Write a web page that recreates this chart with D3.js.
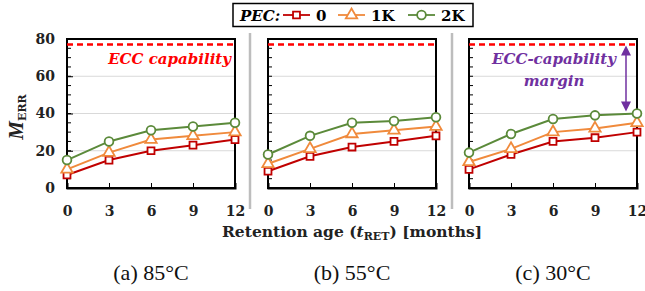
<!DOCTYPE html>
<meta charset="utf-8">
<style>
body { margin: 0; background: #fff; }
svg { display: block; }
.tick text { font: bold 14px "DejaVu Serif", serif; fill: #222; }
.axis path, .axis line { stroke: #000; }
</style>
<body>
<div id="chart"></div>
<script src="https://cdn.jsdelivr.net/npm/d3@7"></script>
<script>
var months = [0, 3, 6, 9, 12];
var pecKeys = ["0", "1K", "2K"];
var panelNames = ["(a) 85°C", "(b) 55°C", "(c) 30°C"];
var yTicks = [0, 20, 40, 60, 80];
var eccCap = 77;

// one array per series per panel
var p85_0 = [7, 15, 20, 23, 26];
var p85_1K = [10, 19, 26, 28, 30];
var p85_2K = [15, 25, 31, 33, 35];
var p55_0 = [9, 17, 22, 25, 28];
var p55_1K = [13, 21, 29, 31, 33];
var p55_2K = [18, 28, 35, 36, 38];
var p30_0 = [10, 18, 25, 27, 30];
var p30_1K = [14, 21, 30, 32, 35];
var p30_2K = [19, 29, 37, 39, 40];

var panels = [
    { name: panelNames[0], series: [p85_0, p85_1K, p85_2K] },
    { name: panelNames[1], series: [p55_0, p55_1K, p55_2K] },
    { name: panelNames[2], series: [p30_0, p30_1K, p30_2K] }
];

var colors = ["#C00000", "#F08A3C", "#5B8A3A"];
var shapes = [d3.symbolSquare, d3.symbolTriangle, d3.symbolCircle];
var shapeSize = [48, 56, 60];

var W = 645, H = 291;
var svg = d3.select("#chart").append("svg").attr("width", W).attr("height", H);

var panelLeft = [67, 268, 469], pw = 168;
var plotTop = 39, plotBottom = 188;
var y = d3.scaleLinear().domain([0, 80]).range([plotBottom, plotTop]);

// separators
[250, 452].forEach(function(x) {
    svg.append("line").attr("x1", x).attr("x2", x).attr("y1", 33).attr("y2", 209)
        .attr("stroke", "#bdbdbd").attr("stroke-width", 2.5);
});

panels.forEach(function(p, pi) {
    var g = svg.append("g").attr("transform", "translate(" + panelLeft[pi] + ",0)");
    var x = d3.scaleLinear().domain([0, 12]).range([0, pw]);

    // gridlines
    g.selectAll(".grid").data([20, 40, 60]).enter().append("line")
        .attr("x1", 0).attr("x2", pw)
        .attr("y1", function(d) { return y(d); }).attr("y2", function(d) { return y(d); })
        .attr("stroke", "#d9d9d9").attr("stroke-width", 1);

    // minor ticks on left axis
    g.selectAll(".minor").data(d3.range(5, 80, 5)).enter().append("line")
        .attr("x1", 0).attr("x2", 4)
        .attr("y1", function(d) { return y(d); }).attr("y2", function(d) { return y(d); })
        .attr("stroke", "#000");

    // frame
    g.append("rect").attr("x", 0).attr("y", plotTop).attr("width", pw).attr("height", plotBottom - plotTop)
        .attr("fill", "none").attr("stroke", "#000").attr("stroke-width", 2);

    var xa = g.append("g").attr("class", "axis").attr("transform", "translate(0," + plotBottom + ")")
        .call(d3.axisBottom(x).tickValues(months).tickSize(-5).tickPadding(18));
    xa.select(".domain").attr("stroke-width", 2);

    if (pi === 0) {
        var ya = g.append("g").attr("class", "axis")
            .call(d3.axisLeft(y).tickValues(yTicks).tickSize(-6).tickPadding(12));
        ya.select(".domain").remove();
    }

    // ECC capability line
    g.append("line").attr("x1", 0).attr("x2", pw).attr("y1", y(eccCap)).attr("y2", y(eccCap))
        .attr("stroke", "#FF0000").attr("stroke-width", 2.5).attr("stroke-dasharray", "6,4");

    var line = d3.line().x(function(d, i) { return x(months[i]); }).y(function(d) { return y(d); });

    p.series.forEach(function(s, si) {
        g.append("path").datum(s).attr("d", line).attr("fill", "none")
            .attr("stroke", colors[si]).attr("stroke-width", 2);
        g.selectAll(".pt" + si).data(s).enter().append("path")
            .attr("transform", function(d, i) { return "translate(" + x(months[i]) + "," + y(d) + ")"; })
            .attr("d", d3.symbol().type(shapes[si]).size(shapeSize[si]))
            .attr("fill", "#fff").attr("stroke", colors[si]).attr("stroke-width", 1.8);
    });

    svg.append("text").attr("x", panelLeft[pi] + pw / 2).attr("y", 280)
        .attr("text-anchor", "middle")
        .style("font", "22px 'Liberation Serif', serif").attr("fill", "#111")
        .text(p.name);
});

// ECC capability label (panel a)
svg.append("text").attr("x", panelLeft[0] + pw - 4).attr("y", 64).attr("text-anchor", "end")
    .style("font", "italic bold 15px 'DejaVu Serif', serif").attr("fill", "#FF0000")
    .text("ECC capability");

// margin annotation (panel c)
var mg = svg.append("g").style("font", "italic bold 15px 'DejaVu Serif', serif").attr("fill", "#7030A0");
mg.append("text").attr("x", 554).attr("y", 64).attr("text-anchor", "middle").text("ECC-capability");
mg.append("text").attr("x", 554).attr("y", 86).attr("text-anchor", "middle").text("margin");
var ax = 626, ya1 = y(eccCap) + 1, ya2 = y(p30_2K[4]) - 2;
svg.append("line").attr("x1", ax).attr("x2", ax).attr("y1", ya1 + 8).attr("y2", ya2 - 8)
    .attr("stroke", "#7030A0").attr("stroke-width", 1.5);
svg.append("path").attr("d", "M" + ax + "," + ya1 + "l-5,10h10z").attr("fill", "#7030A0");
svg.append("path").attr("d", "M" + ax + "," + ya2 + "l-5,-10h10z").attr("fill", "#7030A0");

// y axis title
var yt = svg.append("text").attr("transform", "translate(23,117) rotate(-90)")
    .attr("text-anchor", "middle").style("font", "bold 21px 'Liberation Serif', serif").attr("fill", "#222");
yt.append("tspan").style("font-style", "italic").text("M");
yt.append("tspan").attr("dy", 3).style("font", "bold 11px 'DejaVu Serif', serif").text("ERR");

// x axis title
var xt = svg.append("text").attr("x", 352).attr("y", 237).attr("text-anchor", "middle")
    .style("font", "bold 15.5px 'DejaVu Serif', serif").attr("fill", "#222");
xt.append("tspan").text("Retention age (");
xt.append("tspan").style("font-style", "italic").text("t");
xt.append("tspan").attr("dy", 3).style("font-size", "11px").text("RET");
xt.append("tspan").attr("dy", -3).text(") [months]");

// legend
var lg = svg.append("g");
lg.append("rect").attr("x", 233).attr("y", 3.5).attr("width", 240).attr("height", 23)
    .attr("fill", "#fff").attr("stroke", "#000").attr("stroke-width", 1.5);
lg.append("text").attr("x", 240).attr("y", 21)
    .style("font", "italic bold 15px 'DejaVu Serif', serif").text("PEC:");
var lx = [283, 338, 408];
pecKeys.forEach(function(k, i) {
    lg.append("line").attr("x1", lx[i]).attr("x2", lx[i] + 27).attr("y1", 15).attr("y2", 15)
        .attr("stroke", colors[i]).attr("stroke-width", 1.8);
    lg.append("path").attr("transform", "translate(" + (lx[i] + 13.5) + ",15)")
        .attr("d", d3.symbol().type(shapes[i]).size(shapeSize[i]))
        .attr("fill", "#fff").attr("stroke", colors[i]).attr("stroke-width", 1.8);
    lg.append("text").attr("x", lx[i] + 33).attr("y", 21)
        .style("font", "bold 15px 'DejaVu Serif', serif").text(k);
});
</script>
</body>
